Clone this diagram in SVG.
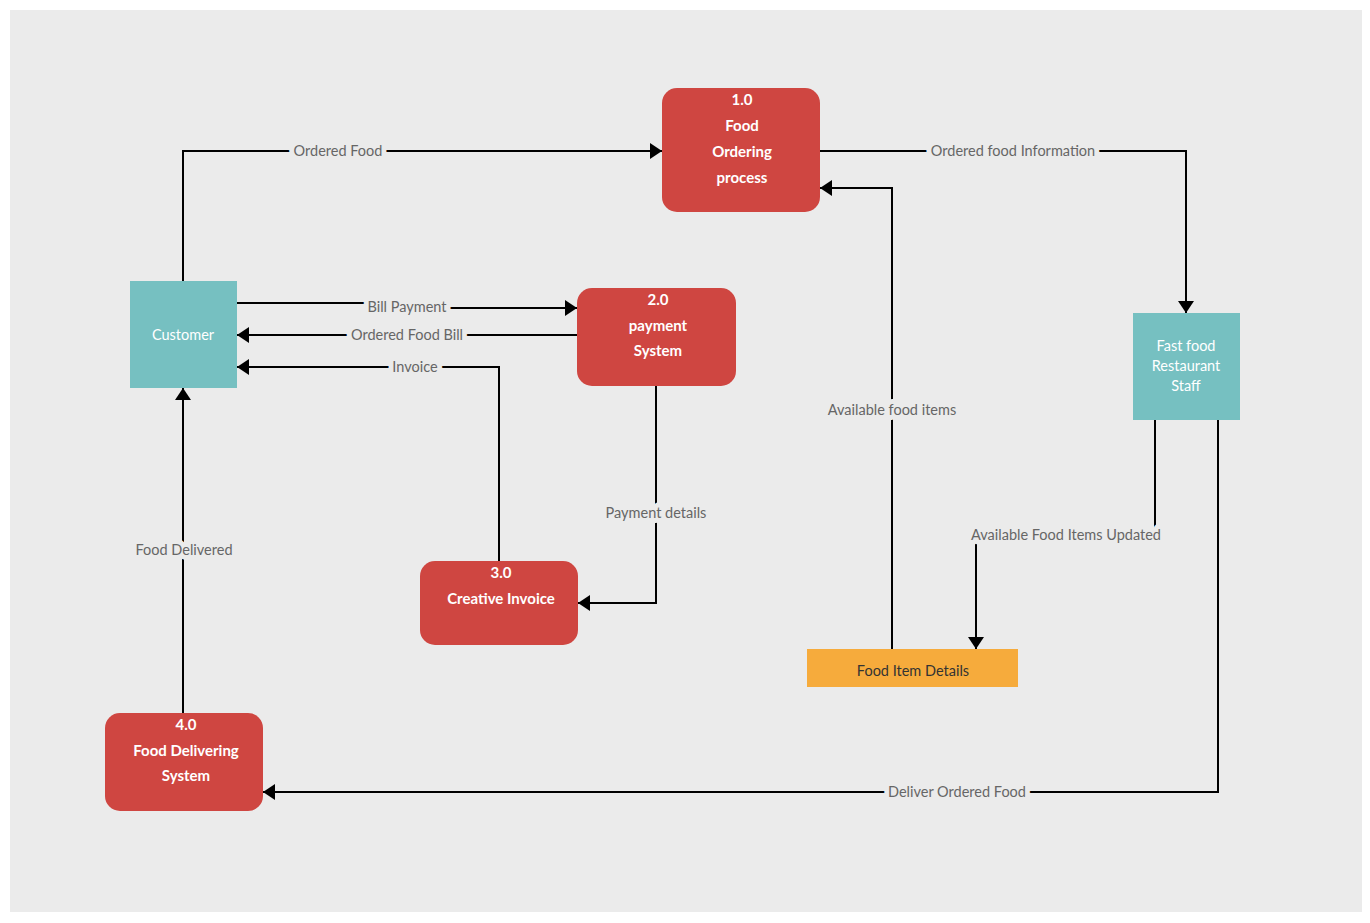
<svg xmlns="http://www.w3.org/2000/svg" width="1370" height="923" viewBox="0 0 1370 923">
<defs>
<style>
.proc{fill:#cf4641;}
.ent{fill:#76c0c1;}
.store{fill:#f6ab3c;}
.nt{font-family:Lato,"Open Sans",sans-serif;font-size:15px;font-weight:bold;fill:#ffffff;text-anchor:middle;}
.et{font-family:Lato,"Open Sans",sans-serif;font-size:14.5px;fill:#ffffff;text-anchor:middle;}
.st{font-family:Lato,"Open Sans",sans-serif;font-size:14.5px;fill:#333333;text-anchor:middle;}
.ln{fill:none;stroke:#000000;stroke-width:2;}
.lb{font-family:Lato,"Open Sans",sans-serif;font-size:14.5px;fill:#666666;text-anchor:middle;stroke:#ebebeb;stroke-width:10;paint-order:stroke;stroke-linejoin:round;}
</style>
<marker id="arr" markerUnits="userSpaceOnUse" markerWidth="14" markerHeight="16" refX="12" refY="8" orient="auto">
<path d="M0,0 L12,8 L0,16 Z" fill="#000000"/>
</marker>
</defs>
<rect x="0" y="0" width="1370" height="923" fill="#ffffff"/>
<rect x="10" y="10" width="1352" height="902" fill="#ebebeb"/>

<g id="connectors">
<path class="ln" d="M183 281 V151 H662" marker-end="url(#arr)"/>
<text class="lb" x="338" y="156">Ordered Food</text>
<path class="ln" d="M820 151 H1186 V313" marker-end="url(#arr)"/>
<text class="lb" x="1013" y="156">Ordered food Information</text>
<path class="ln" d="M892 649 V188 H820" marker-end="url(#arr)"/>
<text class="lb" x="892" y="415">Available food items</text>
<path class="ln" d="M237 303 H407 V308 H577" marker-end="url(#arr)"/>
<text class="lb" x="407" y="312">Bill Payment</text>
<path class="ln" d="M577 335 H237" marker-end="url(#arr)"/>
<text class="lb" x="407" y="340">Ordered Food Bill</text>
<path class="ln" d="M499 561 V367 H237" marker-end="url(#arr)"/>
<text class="lb" x="415" y="372">Invoice</text>
<path class="ln" d="M656 386 V603 H578" marker-end="url(#arr)"/>
<text class="lb" x="656" y="518">Payment details</text>
<path class="ln" d="M1155 420 V535 H976 V649" marker-end="url(#arr)"/>
<text class="lb" x="1066" y="540">Available Food Items Updated</text>
<path class="ln" d="M1218 420 V792 H263" marker-end="url(#arr)"/>
<text class="lb" x="957" y="797">Deliver Ordered Food</text>
<path class="ln" d="M183 713 V388" marker-end="url(#arr)"/>
<text class="lb" x="184" y="555">Food Delivered</text>
</g>

<g id="node-1">
<rect class="proc" x="662" y="88" width="158" height="124" rx="15"/>
<text class="nt" x="742" y="105">1.0</text>
<text class="nt" x="742" y="131">Food</text>
<text class="nt" x="742" y="157">Ordering</text>
<text class="nt" x="742" y="183">process</text>
</g>
<g id="customer">
<rect class="ent" x="130" y="281" width="107" height="107"/>
<text class="et" x="183" y="340">Customer</text>
</g>
<g id="node-2">
<rect class="proc" x="577" y="288" width="159" height="98" rx="15"/>
<text class="nt" x="658" y="305">2.0</text>
<text class="nt" x="658" y="331">payment</text>
<text class="nt" x="658" y="356">System</text>
</g>
<g id="node-3">
<rect class="proc" x="420" y="561" width="158" height="84" rx="15"/>
<text class="nt" x="501" y="578">3.0</text>
<text class="nt" x="501" y="604">Creative Invoice</text>
</g>
<g id="node-4">
<rect class="proc" x="105" y="713" width="158" height="98" rx="15"/>
<text class="nt" x="186" y="730">4.0</text>
<text class="nt" x="186" y="756">Food Delivering</text>
<text class="nt" x="186" y="781">System</text>
</g>
<g id="staff">
<rect class="ent" x="1133" y="313" width="107" height="107"/>
<text class="et" x="1186" y="351">Fast food</text>
<text class="et" x="1186" y="371">Restaurant</text>
<text class="et" x="1186" y="391">Staff</text>
</g>
<g id="food-item-details">
<rect class="store" x="807" y="649" width="211" height="38"/>
<text class="st" x="913" y="676">Food Item Details</text>
</g>
</svg>
